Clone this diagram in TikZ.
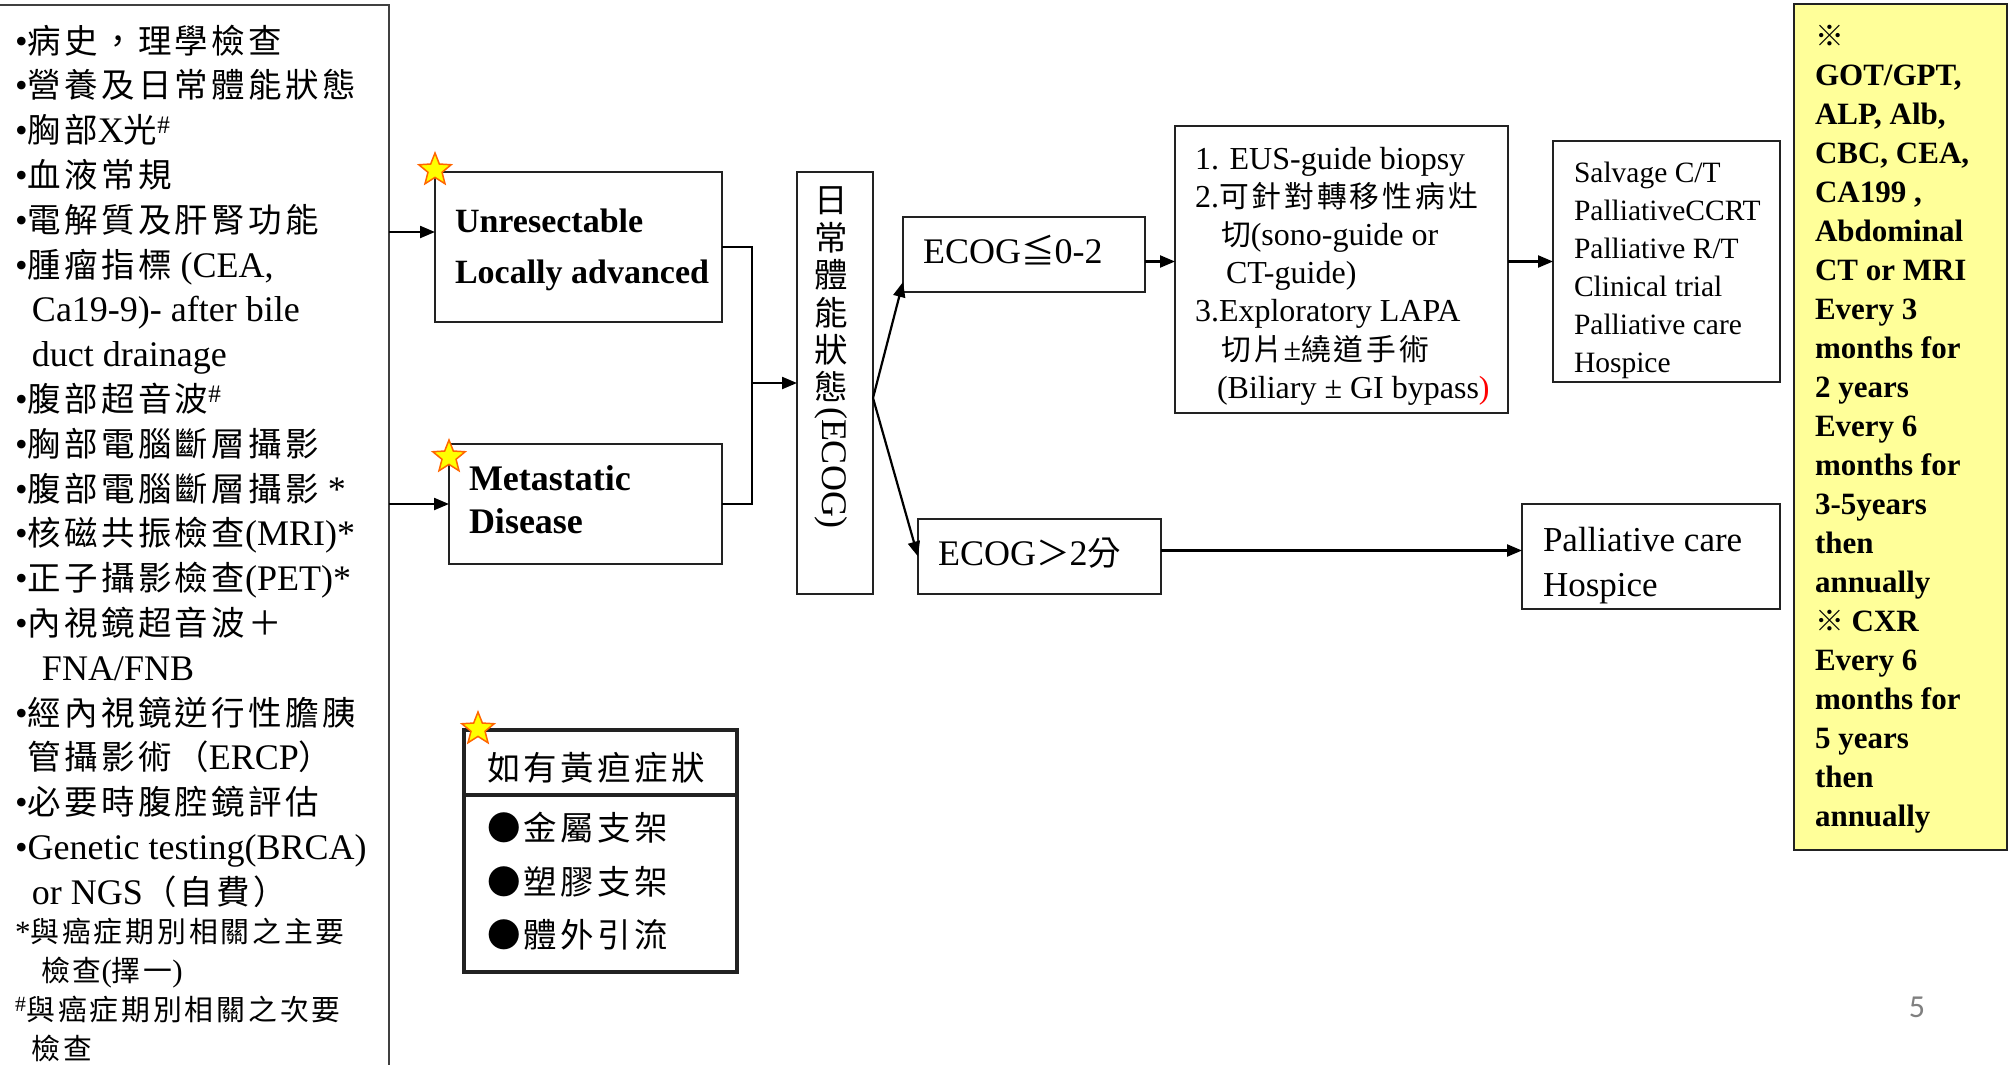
\documentclass[tikz,border=0pt]{standalone}
\usepackage{fontspec}
\setmainfont{Liberation Serif}
\newfontfamily\cjk[Scale=0.93,LetterSpace=10]{Noto Sans CJK TC}
\newfontfamily\cjkv[Scale=0.93]{Noto Sans CJK TC}
\newfontfamily\pnumfont{Carlito}
\usetikzlibrary{arrows.meta,shapes.geometric}
\newcommand\C[1]{{\cjk #1}}
\newcommand\fs[2]{\fontsize{#1pt}{#2pt}\selectfont}
\definecolor{boxline}{HTML}{222222}
\definecolor{ylw}{HTML}{FFFF99}
\definecolor{starfill}{HTML}{FFFF00}
\definecolor{starline}{HTML}{FF6600}
\begin{document}
\begin{tikzpicture}[x=1pt,y=-1pt,
  box/.style={draw=boxline,line width=2.2pt,inner sep=0pt,outer sep=0pt},
  txt/.style={inner sep=0pt,outer sep=0pt,anchor=north west,align=left},
  arr/.style={line width=2.2pt,draw=black,-{Triangle[length=15pt,width=12pt]}},
  plain/.style={line width=2.2pt,draw=black},
  burst/.style={shape=star,star points=5,star point ratio=2.3,minimum size=34pt,inner sep=0pt,fill=starfill,draw=starline,line width=1.5pt}]
\useasboundingbox (0,0) rectangle (2011,1065);
\fill[white] (0,0) rectangle (2011,1065);

% ---------- left box ----------
\node[box,draw=black!75,minimum width=392pt,minimum height=1075pt,anchor=north west] (leftbox) at (-3,5) {};
\node[txt,font=\fs{36}{44.8}] (lefttxt) at (15,20.6) {\rule{0pt}{0.9em}•\C{病史，理學檢查}\\
•\C{營養及日常體能狀態}\\
•\C{胸部}X\C{光}\textsuperscript{\#}\\
•\C{血液常規}\\
•\C{電解質及肝腎功能}\\
•\C{腫瘤指標} (CEA,\\
\hspace*{17pt}Ca19-9)- after bile\\
\hspace*{17pt}duct drainage\\
•\C{腹部超音波}\textsuperscript{\#}\\
•\C{胸部電腦斷層攝影}\\
•\C{腹部電腦斷層攝影} *\\
•\C{核磁共振檢查}(MRI)*\\
•\C{正子攝影檢查}(PET)*\\
•\C{內視鏡超音波＋}\\
\hspace*{27pt}FNA/FNB\\
•\C{經內視鏡逆行性膽胰}\\
\hspace*{13pt}\C{管攝影術（}ERCP\C{）}\\
•\C{必要時腹腔鏡評估}\\
•Genetic testing(BRCA)\\
\hspace*{17pt}or NGS\C{（自費）}};
\node[txt,font=\fs{31}{38.7}] (notes) at (15,915) {\rule{0pt}{0.9em}*\C{與癌症期別相關之主要}\\
\hspace*{26pt}\C{檢查}(\C{擇一})\\
\textsuperscript{\#}\C{與癌症期別相關之次要}\\
\hspace*{17pt}\C{檢查}};

% ---------- stage boxes ----------
\node[box,minimum width=287pt,minimum height=150pt] (unres) at (578.5,247) {};
\node[txt,font=\bfseries\fs{34}{51}] (unrestxt) at (455,201.4) {\rule{0pt}{0.9em}Unresectable\\Locally advanced};
\node[box,minimum width=273pt,minimum height=120pt] (meta) at (585.5,504) {};
\node[txt,font=\bfseries\fs{36}{43}] (metatxt) at (469,457.6) {\rule{0pt}{0.9em}Metastatic\\Disease};

% ---------- ECOG vertical box ----------
\node[box,minimum width=76pt,minimum height=422pt] (ecog) at (835,383) {};
\node[inner sep=0pt,align=center,font=\cjkv\fs{36}{37.4}] (ecogchars) at (831,294.5) {日\\常\\體\\能\\狀\\態};
\node[inner sep=0pt,rotate=-90,font=\fs{36}{40}] (ecogtag) at (831,468) {(ECOG)};

% ---------- ECOG branches ----------
\node[box,minimum width=242pt,minimum height=75pt] (ecogle) at (1024,254.5) {};
\node[inner sep=0pt,anchor=base west,font=\fs{36}{40}] (ecogletxt) at (923,263) {ECOG{\cjkv ≦}0-2};
\node[box,minimum width=243pt,minimum height=75pt] (ecoggt) at (1039.5,556.5) {};
\node[inner sep=0pt,anchor=base west,font=\fs{36}{40}] (ecoggttxt) at (938,565) {ECOG{\cjkv ＞}2{\cjkv 分}};

% ---------- EUS box ----------
\node[box,minimum width=333pt,minimum height=287pt] (eus) at (1341.5,269.5) {};
\node[txt,font=\fs{32}{38.1}] (eustxt) at (1195,140.7) {\rule{0pt}{0.9em}1. EUS-guide biopsy\\
2.\C{可針對轉移性病灶}\\
\hspace*{26pt}\C{切}(sono-guide or\\
\hspace*{31pt}CT-guide)\\
3.Exploratory LAPA\\
\hspace*{26pt}\C{切片}±\C{繞道手術}\\
\hspace*{22pt}(Biliary ± GI bypass\textcolor{red}{)}};

% ---------- salvage box ----------
\node[box,minimum width=227pt,minimum height=241pt] (salv) at (1666.5,261.5) {};
\node[txt,font=\fs{29.5}{38}] (salvtxt) at (1574,155.5) {\rule{0pt}{0.9em}Salvage C/T\\
PalliativeCCRT\\
Palliative R/T\\
Clinical trial\\
Palliative care\\
Hospice};

% ---------- palliative box ----------
\node[box,minimum width=258pt,minimum height=105pt] (pal) at (1651,556.5) {};
\node[txt,font=\fs{35}{45}] (paltxt) at (1543,520) {\rule{0pt}{0.9em}Palliative care\\Hospice};

% ---------- follow-up yellow box ----------
\node[box,fill=ylw,minimum width=213pt,minimum height=846pt] (follow) at (1900.5,427) {};
\node[txt,font=\bfseries\fs{31}{39}] (followtxt) at (1815,19) {\rule{0pt}{0.9em}{\cjkv ※}\\
GOT/GPT,\\
ALP, Alb,\\
CBC, CEA,\\
CA199 ,\\
Abdominal\\
CT or MRI\\
Every 3\\
months for\\
2 years\\
Every 6\\
months for\\
3-5years\\
then\\
annually\\
{\cjkv ※} CXR\\
Every 6\\
months for\\
5 years\\
then\\
annually};

% ---------- jaundice box ----------
\node[box,line width=3.6pt,minimum width=273pt,minimum height=65pt] (jhead) at (600.5,762.5) {};
\node[box,line width=3.6pt,minimum width=273pt,minimum height=177pt] (jbody) at (600.5,883.5) {};
\node[inner sep=0pt,anchor=base west,font=\cjk\fs{36}{40}] (jheadtxt) at (487,780) {如有黃疸症狀};
\node[txt,font=\cjk\fs{36}{53.5}] (jbodytxt) at (487,810.6) {\rule{0pt}{0.9em}●金屬支架\\●塑膠支架\\●體外引流};

% ---------- stars ----------
\node[burst] (star1) at (435,170) {};
\node[burst] (star2) at (449,457) {};
\node[burst] (star3) at (478,729) {};

% ---------- page number ----------
\node[inner sep=0pt,font=\pnumfont\fs{32}{36},text=black!50] (pg) at (1917,1007) {5};

% ---------- connectors ----------
\coordinate (u1in) at ([yshift=15pt]unres.west);
\draw[arr] (u1in -| leftbox.east) -- (u1in);
\draw[arr] (meta.west -| leftbox.east) -- (meta.west);
\coordinate (jn) at (752,383);
\draw[plain] (unres.east) -| (jn) |- (meta.east);
\draw[arr] (jn) -- (ecog.west);
\coordinate (fork) at ([yshift=-15pt]ecog.east);
\draw[arr] (fork) -- ([yshift=10pt]ecogle.south west);
\draw[arr] (fork) -- (ecoggt.west);
\coordinate (e1) at ([yshift=-7pt]ecogle.east);
\draw[arr] (e1) -- (e1 -| eus.west);
\draw[arr] (salv.west -| eus.east) -- (salv.west);
\coordinate (e2) at ([yshift=6pt]ecoggt.east);
\draw[arr] (e2) -- (e2 -| pal.west);
\end{tikzpicture}
\end{document}
